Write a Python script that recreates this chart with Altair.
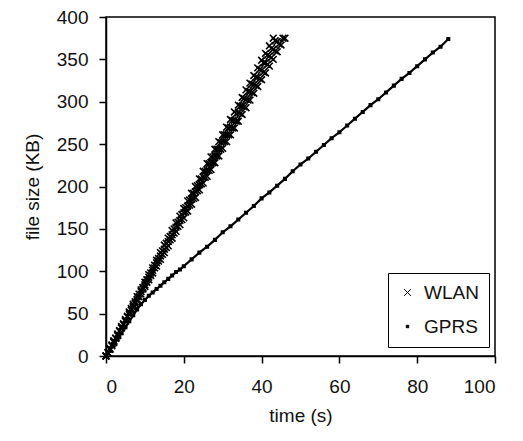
import altair as alt
import pandas as pd

# WLAN: five transfer runs (time s, file size KB)
wlan_run1_t = list(range(0, 44))
wlan_run1_kb = [0, 9, 18, 26, 35, 43, 52, 61, 70, 78,
                87, 96, 104, 113, 122, 131, 139, 148, 157, 165,
                174, 183, 192, 200, 209, 218, 227, 235, 244, 253,
                261, 270, 279, 288, 296, 305, 314, 322, 331, 340,
                349, 357, 366, 375]
wlan_run2_t = list(range(0, 45))
wlan_run2_kb = [0, 8, 17, 25, 34, 42, 51, 59, 67, 76,
                84, 93, 101, 110, 118, 126, 135, 143, 152, 160,
                169, 177, 185, 194, 202, 211, 219, 228, 236, 244,
                253, 261, 270, 278, 287, 295, 303, 312, 320, 329,
                337, 346, 354, 362, 371]
wlan_run3_t = list(range(0, 47))
wlan_run3_kb = [0, 8, 16, 24, 33, 41, 49, 57, 65, 73,
                82, 90, 98, 106, 114, 122, 130, 139, 147, 155,
                163, 171, 179, 187, 196, 204, 212, 220, 228, 236,
                245, 253, 261, 269, 277, 285, 293, 302, 310, 318,
                326, 334, 342, 350, 359, 367, 375]
wlan_run4_t = [0.5 + i for i in range(0, 44)]
wlan_run4_kb = [4, 13, 21, 30, 38, 47, 56, 64, 73, 81,
                90, 98, 107, 115, 124, 133, 141, 150, 158, 167,
                175, 184, 192, 201, 209, 218, 227, 235, 244, 252,
                261, 269, 278, 286, 295, 304, 312, 321, 329, 338,
                346, 355, 363, 372]
wlan_run5_t = [0.5 + i for i in range(0, 46)]
wlan_run5_kb = [4, 12, 21, 29, 37, 46, 54, 62, 70, 79,
                87, 95, 104, 112, 120, 128, 137, 145, 153, 161,
                170, 178, 186, 195, 203, 211, 219, 228, 236, 244,
                253, 261, 269, 277, 286, 294, 302, 311, 319, 327,
                335, 344, 352, 360, 368, 375]

# GPRS transfer
gprs_t = [0, 1, 2, 3, 4, 5, 6, 7, 8, 9, 10, 11, 12, 13, 14, 15, 16, 17, 18, 19,
          20, 22, 24, 26, 28, 30, 32, 34, 36, 38, 40, 42, 44, 46, 48, 50, 52, 54,
          56, 58, 60, 62, 64, 66, 68, 70, 72, 74, 76, 78, 80, 82, 84, 86, 88]
gprs_kb = [0, 6, 13, 20, 27, 34, 41, 48, 55, 61, 66, 71, 75, 79, 83, 87, 91, 95, 99, 102,
           106, 114, 122, 129, 137, 146, 153, 161, 169, 177, 186, 193, 201, 209, 218, 226, 233, 241,
           249, 257, 264, 272, 280, 288, 296, 303, 311, 319, 327, 334, 342, 350, 358, 365, 374]

series_names = ["WLAN", "GPRS"]
x_ticks = [0, 20, 40, 60, 80, 100]
y_ticks = [0, 50, 100, 150, 200, 250, 300, 350, 400]

rows = []
wlan_runs = [(wlan_run1_t, wlan_run1_kb), (wlan_run2_t, wlan_run2_kb), (wlan_run3_t, wlan_run3_kb),
             (wlan_run4_t, wlan_run4_kb), (wlan_run5_t, wlan_run5_kb)]
for run, (ts, ks) in enumerate(wlan_runs):
    for t, k in zip(ts, ks):
        rows.append({"t": t, "kb": k, "series": "WLAN", "run": run})
for t, k in zip(gprs_t, gprs_kb):
    rows.append({"t": t, "kb": k, "series": "GPRS", "run": 9})
df = pd.DataFrame(rows)
gdf = df[df.series == "GPRS"]

FONT = "Liberation Sans"
TXT = "#111"
XPATH = "M-1,-1L1,1M-1,1L1,-1"

xenc = alt.X("t:Q", scale=alt.Scale(domain=[0, 100], nice=False),
             axis=alt.Axis(values=x_ticks, title="time (s)", labelPadding=14, titlePadding=10))
yenc = alt.Y("kb:Q", scale=alt.Scale(domain=[0, 400], nice=False),
             axis=alt.Axis(values=y_ticks, title="file size (KB)", labelPadding=11, titlePadding=14))

line = alt.Chart(gdf).mark_line(color="black", strokeWidth=2.2).encode(x=xenc, y=yenc)

points = alt.Chart(df).mark_point(filled=True, fill="black", stroke="black", strokeWidth=1.6, opacity=1).encode(
    x=xenc, y=yenc,
    shape=alt.Shape("series:N", scale=alt.Scale(domain=series_names, range=[XPATH, "square"]),
                    legend=alt.Legend(title=None, orient="none", legendX=282, legendY=256,
                                      strokeColor="black", fillColor="white", padding=10,
                                      labelFont=FONT, labelFontSize=19, labelColor=TXT,
                                      rowPadding=14, labelOffset=7,
                                      symbolFillColor="black", symbolStrokeColor="black",
                                      symbolStrokeWidth=1)),
    size=alt.Size("series:N", scale=alt.Scale(domain=series_names, range=[46, 6]),
                  legend=alt.Legend(title=None, orient="none", legendX=282, legendY=256)),
    detail="run:N",
)

chart = alt.layer(line, points).properties(
    width=389, height=339,
    autosize=alt.AutoSizeParams(type="none"),
    padding={"left": 98, "top": 9, "right": 20, "bottom": 77},
).configure_view(stroke="black", strokeWidth=1.5).configure_axis(
    grid=False, domainColor="black", domainWidth=1.5, tickColor="black", tickWidth=1.5,
    tickSize=7, labelFont=FONT, labelFontSize=19, labelColor=TXT,
    titleFont=FONT, titleFontSize=19, titleFontWeight="normal", titleColor=TXT,
)

chart.save("out.html", embed_options={"renderer": "svg", "actions": False})
